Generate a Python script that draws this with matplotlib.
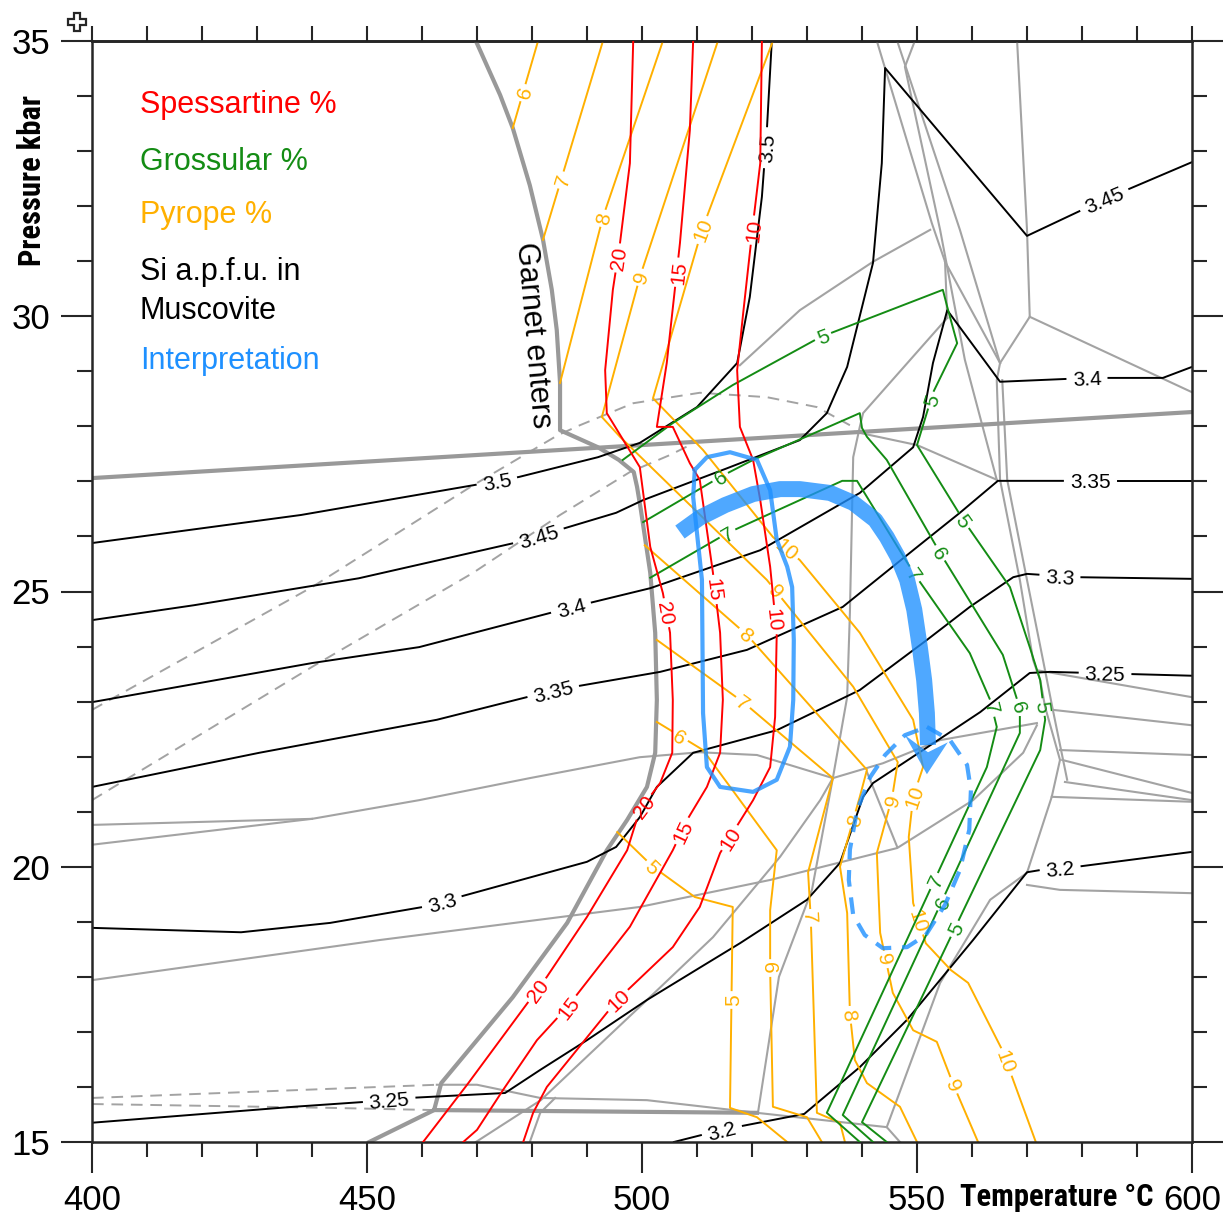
import numpy as np
import matplotlib
matplotlib.use('Agg')
import matplotlib.pyplot as plt
from matplotlib.ticker import MultipleLocator
from matplotlib.lines import Line2D
from matplotlib import font_manager

plt.rcParams['font.family'] = ['Liberation Sans', 'DejaVu Sans']

# look for a bold narrow face for the axis titles
narrow_file = None
for f in font_manager.fontManager.ttflist:
    if ('Narrow' in f.name or 'Condensed' in f.name or 'condensed' in str(f.stretch)) and \
            str(f.weight) in ('bold', '700') and f.style == 'normal':
        narrow_file = f.fname
        if 'Liberation' in f.name:
            break

# ---------------- data: (T degC, P kbar) ----------------
garnet_in = [(469.8, 35), (474.2, 34.02), (476.5, 33.42), (479.6, 32.38), (482, 31.39), (483.6, 30.48),
             (484.5, 29.75), (485.1, 28.79), (485.1, 27.93), (492, 27.62), (495.8, 27.39), (498.5, 27.17),
             (499.1, 26.90), (499.8, 26.48), (501.5, 25.34), (502.4, 24.25), (502.7, 23.03), (502.4, 22.07),
             (500.9, 21.45), (497.3, 20.85), (493.6, 20.30), (486.4, 18.98), (476.5, 17.63), (463.5, 16.07),
             (462.2, 15.58), (450.4, 15.0)]
garnet_base = [(462.2, 15.58), (520.9, 15.53)]
reaction = [(400, 27.06), (600, 28.26)]

dash_upper = [(400, 22.85), (440, 25.08), (469.3, 26.93), (484.7, 27.84), (488.7, 28.02), (498.4, 28.42),
              (510.5, 28.61), (522.7, 28.53), (531.8, 28.35), (537.8, 28.02)]
dash_lower = [(400, 21.21), (440, 23.63), (469.3, 25.34), (485.1, 26.39), (497.8, 27.17), (505.1, 27.48),
              (508.7, 27.66)]
dash_bl1 = [(400, 15.80), (462.7, 16.04)]
dash_bl2 = [(400, 15.69), (443.3, 15.62), (462.2, 15.58)]

# Si a.p.f.u. in muscovite
si_350 = [(400, 25.88), (438, 26.39), (469.3, 26.93), (477.6, 27.08), (492, 27.44), (499.6, 27.70), (510, 28.35),
          (517.3, 29.15), (519.6, 30.35), (521.8, 32.17), (522.7, 33.38), (523.6, 35)]
si_345 = [(400, 24.48), (418.5, 24.75), (448.5, 25.24), (477.6, 25.90), (495.3, 26.43), (500.2, 26.66),
          (515.5, 27.24), (528.7, 27.75), (533.6, 28.24), (537.3, 29.08), (542, 30.97), (543.6, 32.78),
          (544.2, 34.51), (570, 31.46), (583.8, 32.11), (600, 32.80)]
si_340 = [(400, 22.99), (440, 23.70), (459.5, 23.99), (487.5, 24.72), (501.5, 25.06), (521.5, 25.75),
          (539.6, 26.79), (549.3, 27.62), (551.1, 28.17), (552.9, 29.15), (555.5, 30.11), (565.1, 28.81),
          (581.5, 28.88), (594.7, 28.88), (600, 29.08)]
si_335 = [(400, 21.45), (430.4, 22.07), (462.7, 22.67), (484.2, 23.21), (503.3, 23.54), (519.1, 23.94),
          (536.5, 24.72), (549.3, 25.75), (557.8, 26.43), (564.7, 27.01), (600, 27.01)]
si_330 = [(400, 18.89), (427.1, 18.81), (443.3, 18.98), (460.2, 19.27), (466.7, 19.45), (490, 20.09),
          (495.3, 20.36), (499.6, 20.90), (502.7, 21.45), (509.3, 22.07), (524.5, 22.48), (539.6, 23.21),
          (551.8, 24.12), (559.6, 24.72), (567.5, 25.26), (570, 25.32), (579.1, 25.26), (600, 25.23)]
si_325 = [(400, 15.35), (436.7, 15.64), (449.8, 15.73), (457.6, 15.80), (475.1, 15.89), (481.5, 16.31),
          (490, 16.85), (500.9, 17.58), (510.4, 18.16), (517.8, 18.61), (530, 19.40), (536, 20.07),
          (540.2, 21.27), (542, 21.52), (551.1, 22.12), (561.5, 22.81), (570.5, 23.52), (574.2, 23.54),
          (600, 23.47)]
si_320 = [(505.8, 15), (514.5, 15.22), (529.5, 15.51), (539.6, 16.36), (548.2, 17.22), (560.2, 18.67),
          (570, 19.90), (572.4, 19.94), (579.1, 20.0), (600, 20.27)]
si_labels = {'3.5': [(473.6, 27.01), (522.7, 33.06)], '3.45': [(481.1, 26.03), (583.8, 32.17)],
             '3.4': [(487.1, 24.70), (580.9, 28.88)], '3.35': [(483.8, 23.21), (581.5, 27.01)],
             '3.3': [(463.5, 19.40), (576, 25.30)], '3.25': [(454, 15.80), (584.2, 23.54)],
             '3.2': [(514.5, 15.22), (576, 20.0)]}

# spessartine %
sp_20 = [(498.4, 35), (497.8, 32.78), (496, 31.33), (494.7, 30.48), (493.3, 29.02), (493.6, 28.24),
         (499.6, 27.26), (501.5, 25.81), (503.8, 24.97), (505.1, 24.25), (505.6, 23.03), (505.5, 22.07),
         (503.3, 21.52), (499.6, 21.03), (497.3, 20.30), (490, 19.09), (482.7, 18.0), (468.2, 16.04), (460.2, 15.0)]
sp_15 = [(509.3, 35), (508.7, 33.38), (506.9, 31.33), (504.5, 29.15), (502.7, 27.99), (505.6, 27.99),
         (508.7, 27.33), (510.5, 27.03), (512.9, 25.34), (514.2, 24.25), (514.7, 23.03), (514.2, 22.07),
         (511.8, 21.45), (508.2, 20.85), (505.6, 20.30), (497.8, 18.91), (486.4, 17.45), (480.9, 16.85),
         (474.7, 15.94), (470, 15.22), (467.5, 15)]
sp_10 = [(521.8, 35), (521.5, 32.78), (520.2, 31.69), (518.4, 30.06), (517.3, 29.02), (517.8, 27.99),
         (520.2, 27.39), (521.5, 26.66), (523.3, 25.45), (524.5, 24.25), (524.2, 22.72), (523.3, 21.81),
         (520.2, 21.21), (514.2, 20.25), (510.5, 19.27), (505.6, 18.54), (495.5, 17.58), (482.7, 16.0),
         (480.2, 15.53), (478.4, 15)]
sp_labels = {'20': [(495.5, 31.06), (504.2, 24.61), (500.2, 21.09), (480.9, 17.76)],
             '15': [(506.4, 30.80), (512.7, 25.03), (506.9, 20.67), (486.4, 17.45)],
             '10': [(519.6, 31.57), (523.3, 24.48), (515.1, 20.58), (495.5, 17.58)]}

# pyrope %
py_6a = [(481.1, 35), (476.5, 33.42)]
py_7a = [(492.9, 35), (482, 31.39)]
py_8a = [(503.8, 35), (492.9, 31.80), (485.1, 28.79)]
py_9 = [(513.8, 35), (499.6, 30.71), (492.7, 28.17), (496, 27.81), (522.7, 25.21), (538.4, 23.27),
        (546.5, 21.90), (545.5, 21.27), (542.7, 20.25), (543.3, 18.80), (545.6, 17.71), (549.3, 17.03),
        (553.6, 16.82), (556.5, 16.07), (561.1, 15.0)]
py_10 = [(523.8, 35), (510.9, 31.57), (502, 28.51), (511.1, 27.57), (523.8, 25.99), (528.7, 25.57),
         (539.6, 24.25), (549.3, 22.67), (551.1, 21.81), (549.3, 21.27), (548.5, 20.54), (549.3, 19.34),
         (551.6, 18.61), (556.2, 18.12), (559.3, 17.89), (565.5, 16.67), (571.6, 15.0)]
py_8b = [(500.5, 25.84), (519.1, 24.21), (540.9, 21.76), (539.6, 21.27), (536, 20.0), (537.3, 19.16),
         (537.8, 17.34), (538.7, 16.49), (540.9, 16.07), (546.9, 15.64), (550, 15.0)]
py_7b = [(502.7, 24.12), (518.4, 22.99), (534.7, 21.61), (530.2, 19.90), (530.7, 19.03), (531.8, 15.53),
         (536, 15.35), (536.9, 15.0)]
py_6b = [(502.7, 22.63), (511.1, 22.12), (517.8, 21.21), (524.5, 20.30), (523.3, 19.21), (523.3, 18.12),
         (523.8, 15.64), (530, 15.45), (532.7, 15.0)]
py_5 = [(495.5, 20.63), (502, 20.0), (509.6, 19.45), (516.5, 19.27), (516, 15.62), (520.9, 15.45), (526.4, 15.0)]
py_lines = [('6', py_6a, [(478.4, 34.06)]), ('7', py_7a, [(485.1, 32.48)]), ('8', py_8a, [(492.9, 31.78)]),
            ('9', py_9, [(499.6, 30.71), (524.2, 24.99), (545.1, 21.21), (544, 18.31), (556.9, 16.04)]),
            ('10', py_10, [(510.9, 31.57), (526.9, 25.84), (549.6, 21.27), (550.5, 19.03), (565.6, 16.43)]),
            ('8', py_8b, [(519.1, 24.25), (538.4, 20.85), (537.8, 17.31)]),
            ('7', py_7b, [(518.4, 22.99), (530.4, 19.07)]),
            ('6', py_6b, [(506.9, 22.36), (523.3, 18.16)]),
            ('5', py_5, [(502, 20.0), (516, 17.58)])]

# grossular %
gr_5 = [(496.5, 27.39), (505.6, 28.06), (516.5, 28.75), (532.4, 29.62), (554.7, 30.48), (555.5, 30.17),
        (557.3, 29.51), (552.9, 28.61), (550, 27.66), (558.4, 26.30), (566.9, 25.08), (570.5, 23.99),
        (572.4, 23.39), (573.3, 22.67), (572.4, 22.12), (540, 15.36), (544.5, 15.0)]
gr_6 = [(500.2, 26.26), (514.2, 27.08), (520.2, 27.39), (539.6, 28.24), (540, 27.97), (540.9, 27.81),
        (544.5, 27.39), (554.2, 25.70), (565.6, 23.85), (568.7, 22.88), (568.7, 22.43), (536.5, 15.49), (542, 15.0)]
gr_7 = [(501.5, 25.25), (515.5, 26.06), (536.4, 27.01), (539.1, 27.01), (549.3, 25.35), (559.6, 23.88),
        (563.3, 23.03), (564.5, 22.54), (562.7, 21.81), (533.6, 15.53), (539.6, 15.0)]
gr_lines = [('5', gr_5, [(533.3, 29.53), (552.4, 28.48), (558.7, 26.30), (572.9, 22.90), (556.5, 18.89)]),
            ('6', gr_6, [(514.2, 27.08), (554.2, 25.70), (568.7, 22.90), (554.7, 19.34)]),
            ('7', gr_7, [(515.5, 26.06), (550, 25.35), (563.6, 22.88), (552.7, 19.76)])]

# thin grey phase boundaries
grey_lines = [
    [(400, 20.76), (440, 20.87)],
    [(400, 20.40), (440, 20.87), (459.5, 21.21), (479.6, 21.61), (499.6, 21.99), (510.5, 22.08), (520.9, 22.03), (534.7, 21.61)],
    [(400, 17.94), (452.4, 18.67), (499.6, 19.27), (523.3, 19.76), (546.4, 20.34), (560.2, 21.21), (569.3, 22.07), (571.8, 22.57)],
    [(534.7, 21.61), (543.8, 21.88), (554.2, 22.30), (571.8, 22.61)],
    [(555.5, 29.97), (540.2, 28.24), (539.6, 27.99), (538.4, 27.44), (537.8, 24.61), (537.3, 23.08), (534.7, 21.61)],
    [(521.1, 15.54), (524.9, 18.0), (530.9, 19.58), (534.7, 21.61)],
    [(469.8, 15.0), (481.6, 15.76), (500.9, 17.58), (512.9, 18.72), (525.1, 20.18), (532.4, 21.21), (534.7, 21.61)],
    [(479.6, 15.0), (481.5, 15.53), (484.2, 15.80)],
    [(462.7, 16.04), (470, 16.04), (481.5, 15.80), (500.9, 15.76), (520.9, 15.53), (544.5, 15.27), (546.9, 15.0)],
    [(540.9, 21.72), (546.4, 20.36)],
    [(544.5, 15.27), (554.2, 17.89), (563.3, 19.40), (570, 19.89), (574.5, 21.27), (576, 21.94), (573.3, 22.90),
     (572.4, 23.39), (571.1, 23.76), (568.7, 25.21), (565.1, 27.03), (564.5, 28.84), (565.1, 29.15), (570.5, 29.99),
     (570, 31.57), (568.2, 35)],
    [(565.5, 28.84), (566.4, 27.03), (570, 25.21), (572.9, 23.76), (574.7, 22.85), (577.3, 21.58)],
    [(571.8, 23.57), (600, 23.08)],
    [(574.7, 22.85), (600, 22.57)],
    [(576, 22.12), (600, 22.03)],
    [(576.4, 21.94), (600, 21.34)],
    [(576.9, 21.54), (600, 21.21)],
    [(574.5, 21.27), (600, 21.18)],
    [(570, 19.67), (576, 19.58), (600, 19.52)],
    [(570.5, 29.99), (600, 28.62)],
    [(538.7, 27.90), (550, 27.66), (564.5, 27.03)],
    [(542.7, 35), (552.7, 31.69), (555.1, 30.99), (555.5, 29.97)],
    [(555.1, 30.99), (565.1, 29.15)],
    [(546.4, 35), (557.8, 31.57), (565.1, 29.15)],
    [(549.6, 35), (547.8, 34.53), (554.2, 31.57), (558.7, 29.21), (564.5, 27.03)],
    [(517.8, 29.11), (528.7, 30.11), (542, 30.99), (552.4, 31.57)],
]

# interpretation
blue_loop = [(509.6, 27.21), (511.8, 27.44), (516, 27.53), (520.9, 27.39), (523.3, 26.84), (524.5, 25.94),
             (526.4, 25.45), (527.3, 25.08), (527.6, 24.12), (527.5, 23.03), (526.9, 22.18), (524.5, 21.58),
             (520.2, 21.36), (514.2, 21.45), (511.8, 21.81), (511.1, 22.79), (510.9, 25.21), (509.3, 26.72),
             (509.6, 27.21)]
blue_path = [(506.9, 26.08), (510.5, 26.34), (515.1, 26.57), (520.2, 26.77), (525.1, 26.86), (528.7, 26.86),
             (534.2, 26.79), (538.4, 26.61), (542.4, 26.30), (544.5, 25.99), (546.5, 25.63), (548.2, 25.21),
             (549.5, 24.67), (550.5, 24.00), (551.3, 23.39), (551.8, 22.79), (552, 22.21)]
blue_head = [(547.8, 22.39), (552, 22.08), (555.6, 22.26), (551.8, 21.68)]
blue_end = [(551.8, 22.54), (556, 22.30), (559.1, 21.85), (559.8, 21.39), (559.5, 20.67), (557.8, 19.94),
            (555.1, 19.31), (551.6, 18.76), (548.2, 18.54), (543.8, 18.52), (540.5, 18.76), (538.4, 19.12),
            (537.6, 19.76), (537.8, 20.31), (539.1, 21.03), (541.5, 21.63), (544.2, 22.03), (547.8, 22.39),
            (551.8, 22.54)]

RED, ORANGE, GREEN, BLUE = '#ff0000', '#ffb000', '#148c14', '#1e90ff'
GREY = '#a3a3a3'

fig = plt.figure(figsize=(12.3, 12.15), dpi=100)
ax = fig.add_axes([92 / 1230, 1 - 1142 / 1215, 1100 / 1230, 1101 / 1215])
ax.set_xlim(400, 600)
ax.set_ylim(15, 35)


def xy(pts):
    a = np.asarray(pts, float)
    return a[:, 0], a[:, 1]


def draw_iso(pts, color, text, labels, z, lw=1.4, fs=15):
    """draw a line and put its value on it, breaking the line under the text"""
    d_xy = ax.transData.transform(np.asarray(pts, float))
    seg = np.hypot(*np.diff(d_xy, axis=0).T)
    cum = np.concatenate([[0], np.cumsum(seg)])

    def at(s):
        i = int(np.clip(np.searchsorted(cum, s, side='right') - 1, 0, len(seg) - 1))
        t = 0 if seg[i] == 0 else (s - cum[i]) / seg[i]
        return d_xy[i] + t * (d_xy[i + 1] - d_xy[i])

    cuts = []
    for lab in labels:
        q = ax.transData.transform(lab)
        best = None
        for i in range(len(seg)):
            a, b = d_xy[i], d_xy[i + 1]
            ab = b - a
            t = np.clip(np.dot(q - a, ab) / max(np.dot(ab, ab), 1e-9), 0, 1)
            p = a + t * ab
            dist = np.hypot(*(q - p))
            if best is None or dist < best[0]:
                best = (dist, i, t, p)
        _, i, t, p = best
        s0 = cum[i] + t * seg[i]
        dx, dy = d_xy[i + 1] - d_xy[i]
        ang = np.degrees(np.arctan2(dy, dx))
        if ang > 90:
            ang -= 180
        elif ang < -90:
            ang += 180
        half = 0.28 * len(text) * fs * 100 / 72 + 4
        cuts.append((s0 - half, s0 + half))
        lx, ly = ax.transData.inverted().transform(p)
        ax.text(lx, ly, text, color=color, fontsize=fs, rotation=ang, rotation_mode='anchor',
                ha='center', va='center_baseline', zorder=z)
    keep = [(0.0, cum[-1])]
    for a, b in sorted(cuts):
        new = []
        for u, v in keep:
            if b <= u or a >= v:
                new.append((u, v))
                continue
            if a > u:
                new.append((u, a))
            if b < v:
                new.append((b, v))
        keep = new
    for u, v in keep:
        piece = [at(u)] + [d_xy[k] for k in range(len(d_xy)) if u < cum[k] < v] + [at(v)]
        dat = ax.transData.inverted().transform(np.array(piece))
        ax.plot(dat[:, 0], dat[:, 1], color=color, lw=lw, zorder=z, solid_joinstyle='round')


# grey boundaries
for g in grey_lines:
    ax.plot(*xy(g), color=GREY, lw=1.5, zorder=1)
for g in (dash_upper, dash_lower, dash_bl1, dash_bl2):
    ax.plot(*xy(g), color=GREY, lw=1.4, dashes=(6, 4), zorder=1.2)
for g in (garnet_in, garnet_base, reaction):
    ax.plot(*xy(g), color='#999999', lw=3.0, zorder=1.5, solid_joinstyle='round')
ax.text(480.2, 29.66, 'Garnet enters', fontsize=22, rotation=-85, rotation_mode='anchor',
        ha='center', va='center', zorder=2)

# isopleths
for val, line in zip(['3.5', '3.45', '3.4', '3.35', '3.3', '3.25', '3.2'],
                     [si_350, si_345, si_340, si_335, si_330, si_325, si_320]):
    draw_iso(line, 'black', val, si_labels[val], 2)
for val, line, labs in py_lines:
    draw_iso(line, ORANGE, val, labs, 2.5)
for val, line, labs in gr_lines:
    draw_iso(line, GREEN, val, labs, 3)
for val, line in zip(['20', '15', '10'], [sp_20, sp_15, sp_10]):
    draw_iso(line, RED, val, sp_labels[val], 3.5)

# interpretation
ax.plot(*xy(blue_loop), color=BLUE, lw=3, alpha=0.8, zorder=5)
ax.plot(*xy(blue_end), color=BLUE, lw=3, alpha=0.8, dashes=(4, 2.6), zorder=5)
ax.plot(*xy(blue_path), color=BLUE, lw=11.5, alpha=0.78, zorder=5, solid_capstyle='butt')
ax.fill(*xy(blue_head), color=BLUE, alpha=0.78, lw=0, zorder=5)

# legend-like text
leg = [('Spessartine %', RED, 0.942), ('Grossular %', GREEN, 0.890), ('Pyrope %', ORANGE, 0.842),
       ('Si a.p.f.u. in', 'black', 0.790), ('Muscovite', 'black', 0.755), ('Interpretation', BLUE, 0.709)]
for s, c, yy in leg:
    ax.text(0.0436, yy, s, color=c, fontsize=22, transform=ax.transAxes, ha='left', va='center')

# axes styling
for sp in ax.spines.values():
    sp.set_linewidth(1.8)
    sp.set_color('#262626')
ax.xaxis.set_major_locator(MultipleLocator(50))
ax.xaxis.set_minor_locator(MultipleLocator(10))
ax.yaxis.set_major_locator(MultipleLocator(5))
ax.yaxis.set_minor_locator(MultipleLocator(1))
ax.tick_params(which='both', direction='out', width=1.5, color='#262626',
               left=True, right=True, bottom=True, top=False, labelsize=25, pad=8)
ax.tick_params(which='major', length=22)
ax.tick_params(which='minor', length=11)
top = ax.secondary_xaxis('top')
top.set_xticks(np.arange(400, 601, 10))
top.tick_params(direction='out', length=11, width=1.5, color='#262626', labeltop=False)
top.spines['top'].set_linewidth(1.8)

if narrow_file:
    title_font = dict(fontproperties=font_manager.FontProperties(fname=narrow_file, size=22))
else:
    title_font = dict(fontsize=18.5, fontweight='bold')
fig.text(1057 / 1230, 1 - 1197 / 1215, 'Temperature \u00b0C', ha='center', va='center', **title_font)
fig.text(32 / 1230, 1 - 181 / 1215, 'Pressure kbar', rotation=90, ha='center', va='center', **title_font)
fig.add_artist(Line2D([77 / 1230], [1 - 22 / 1215], marker='P', ms=13, mfc='white', mec='#262626',
                      mew=1.6, transform=fig.transFigure))

fig.savefig('out.png', dpi=100)
